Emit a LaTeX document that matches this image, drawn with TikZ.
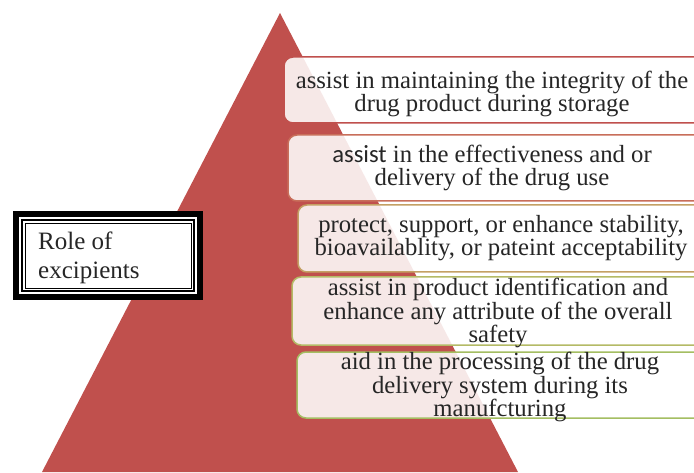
\documentclass[tikz,border=0pt]{standalone}
\usepackage{fontspec}
\setmainfont{Liberation Serif}
\newfontfamily\calib{Carlito}
\begin{document}
\begin{tikzpicture}[x=1pt,y=1pt,
  boxtxt/.style={align=center,inner sep=0pt,font=\fontsize{24.7}{23.8}\selectfont,text=black!85},
  layerbox/.style={fill=white,fill opacity=0.87,line width=1.5pt,rounded corners=9pt},
  roletxt/.style={align=left,inner sep=0pt,anchor=north west,font=\fontsize{25}{28.5}\selectfont,text=black!85}]
\useasboundingbox (0,0) rectangle (694,472);
\clip (0,0) rectangle (694,472);
\fill[white] (0,0) rectangle (694,472);
% pyramid
\fill[fill={rgb,255:red,192;green,80;blue,77}] (280,459) -- (518,0) -- (42,0) -- cycle;
% layer boxes
\definecolor{b1}{RGB}{192,80,77}
\definecolor{b2}{RGB}{200,110,90}
\definecolor{b3}{RGB}{196,160,100}
\definecolor{b4}{RGB}{180,186,102}
\definecolor{b5}{RGB}{164,190,98}
\draw[layerbox,draw=b1] (284,349) rectangle (715,415);
\draw[layerbox,draw=b2] (288,271) rectangle (715,337);
\draw[layerbox,draw=b3] (298,200) rectangle (715,267);
\draw[layerbox,draw=b4] (292,127) rectangle (715,195);
\draw[layerbox,draw=b5] (297,54) rectangle (715,120);
\node[boxtxt] (t1) at (492,378) {assist in maintaining the integrity of the\\drug product during storage};
\node[boxtxt] (t2) at (492,304) {{\calib assist} in the effectiveness and or\\delivery of the drug use};
\node[boxtxt] (t3) at (501,234) {protect, support, or enhance stability,\\bioavailablity, or pateint acceptability};
\node[boxtxt] (t4) at (498,159) {assist in product identification and\\enhance any attribute of the overall\\safety};
\node[boxtxt] (t5) at (500,85) {aid in the processing of the drug\\delivery system during its\\manufcturing};
% role box
\fill[white] (13,172) rectangle (203,261);
\draw[line width=6pt] (16,175) rectangle (200,258);
\draw[line width=1.2pt] (22,181) rectangle (194,252);
\draw[line width=0.8pt] (25,184) rectangle (191,249);
\node[roletxt] (role) at (38,240) {Role of\\excipients};
\end{tikzpicture}
\end{document}
